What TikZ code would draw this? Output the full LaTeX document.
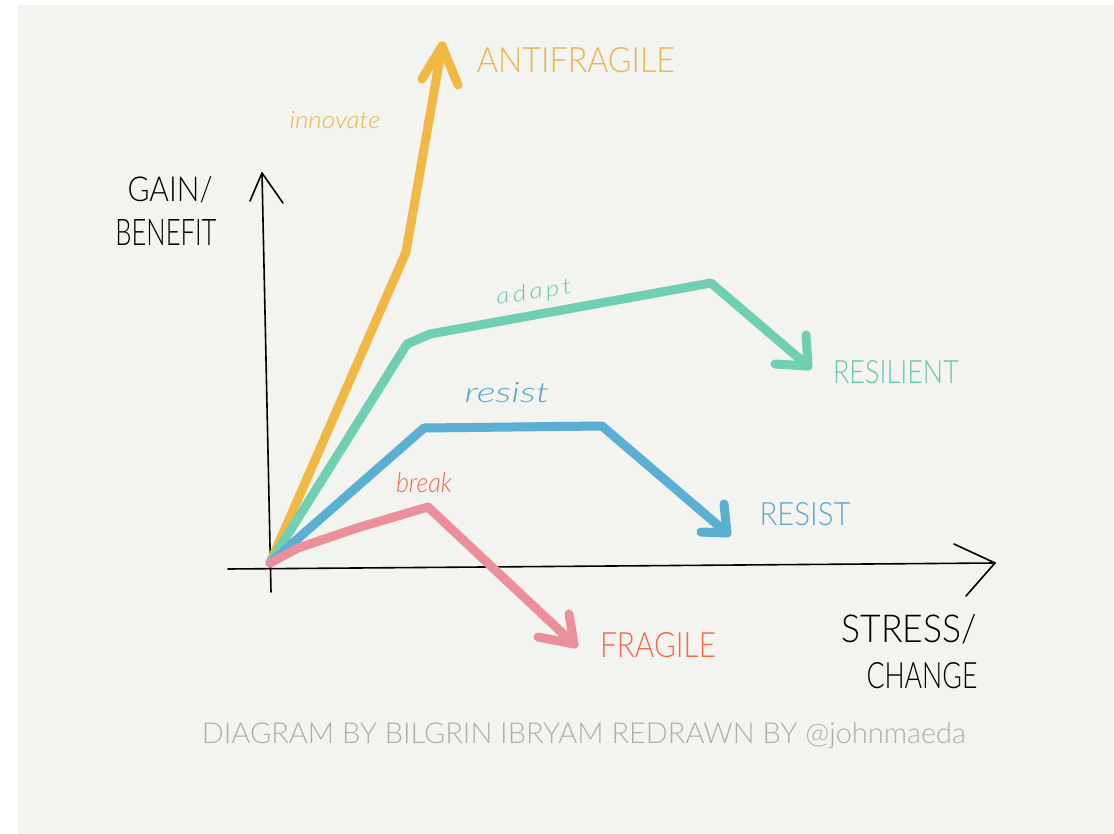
\documentclass[tikz,border=0pt]{standalone}
\usepackage{fontspec}
\usepackage{graphicx}
\setmainfont{Lato Light}
\definecolor{bgc}{HTML}{F3F3EF}
\definecolor{cyel}{HTML}{F2B844}
\definecolor{cteal}{HTML}{70CFB2}
\definecolor{cblue}{HTML}{5BAFD3}
\definecolor{cpink}{HTML}{EB8F9A}
\definecolor{tyel}{HTML}{E9B54E}
\definecolor{tteal}{HTML}{67C7AB}
\definecolor{tblue}{HTML}{5AA8CC}
\definecolor{tred}{HTML}{EC6A50}
\definecolor{tfoot}{HTML}{B3ABAB}
\newcommand{\fitbox}[3]{\resizebox{#1pt}{#2pt}{#3}}
\begin{document}
\begin{tikzpicture}[x=1pt,y=-1pt,
  axisline/.style={draw=black, line width=1.6pt, line cap=round, line join=round},
  curve/.style={line width=9pt, line cap=round, line join=round},
  lbl/.style={inner sep=0pt, anchor=base}]
\useasboundingbox (0,0) rectangle (1114,834);
\fill[white] (0,0) rectangle (1114,834);
\fill[bgc] (18,5) rectangle (1114,834);
% coordinates
\coordinate (O) at (270,563);
\coordinate (ybot) at (271,592);
\coordinate (ytop) at (262,173);
\coordinate (yarmL) at (250,201);
\coordinate (yarmR) at (283,203);
\coordinate (xleft) at (228,569);
\coordinate (xtip) at (995,563);
\coordinate (xarmU) at (954,544);
\coordinate (xarmD) at (966,596);
% axes
\draw[axisline] (ybot) -- (ytop);
\draw[axisline] (yarmL) -- (ytop) -- (yarmR);
\draw[axisline] (xleft) -- (xtip);
\draw[axisline] (xarmU) -- (xtip) -- (xarmD);
% antifragile
\coordinate (y1) at (406,252);
\coordinate (ytipc) at (442,46);
\coordinate (yaL) at (422,79);
\coordinate (yaR) at (458,85);
\draw[curve, cyel] (O) -- (y1) -- (ytipc);
\draw[curve, cyel] (yaL) -- (ytipc) -- (yaR);
% resilient
\coordinate (t1) at (407,344);
\coordinate (t2) at (430,334);
\coordinate (t3) at (711,283);
\coordinate (ttip) at (808,366);
\coordinate (taU) at (806,335);
\coordinate (taL) at (775,364);
\draw[curve, cteal] (O) -- (t1) -- (t2) -- (t3) -- (ttip);
\draw[curve, cteal] (taU) -- (ttip) -- (taL);
% resist
\coordinate (b1) at (424,428);
\coordinate (b2) at (602,426);
\coordinate (btip) at (727,533);
\coordinate (baU) at (724,504);
\coordinate (baL) at (701,532);
\draw[curve, cblue] (O) -- (b1) -- (b2) -- (btip);
\draw[curve, cblue] (baU) -- (btip) -- (baL);
% fragile
\coordinate (p1) at (298,548);
\coordinate (p2) at (360,527);
\coordinate (p3) at (428,507);
\coordinate (ptip) at (574,644);
\coordinate (paU) at (569,614);
\coordinate (paL) at (538,637);
\draw[curve, cpink] (O) -- (p1) -- (p2) -- (p3) -- (ptip);
\draw[curve, cpink] (paU) -- (ptip) -- (paL);
% labels
\node[lbl, text=tyel] (lanti) at (576,73) {\fitbox{198}{25}{ANTIFRAGILE}};
\node[lbl, text=tyel] (linno) at (335,129) {\fitbox{91}{17}{\itshape innovate}};
\node[lbl, text=black] (lgain) at (170,202) {\fitbox{85}{25}{GAIN/}};
\node[lbl, text=black] (lbene) at (166,246) {\fitbox{101}{26}{BENEFIT}};
\node[lbl, text=tteal, rotate=9] (ladapt) at (535,299) {\fitbox{76}{16}{\itshape a\kern1.3pt d\kern1.3pt a\kern1.3pt p\kern1.3pt t}};
\node[lbl, text=tteal] (lresil) at (896,384) {\fitbox{126}{23}{RESILIENT}};
\node[lbl, text=tblue] (lres) at (507,402) {\fitbox{85}{20}{\itshape resist}};
\node[lbl, text=tblue] (lRES) at (805,525) {\fitbox{91}{23}{RESIST}};
\node[lbl, text=tred] (lbreak) at (424,492) {\fitbox{56}{20}{\itshape break}};
\node[lbl, text=tred] (lfrag) at (658,657) {\fitbox{116}{25}{FRAGILE}};
\node[lbl, text=black] (lstress) at (909,642) {\fitbox{135}{28}{STRESS/}};
\node[lbl, text=black] (lchange) at (922,688) {\fitbox{111}{26}{CHANGE}};
\node[lbl, text=tfoot] (lfoot) at (584,743) {\fitbox{764}{21}{DIAGRAM BY BILGRIN IBRYAM REDRAWN BY @johnmaeda}};
\end{tikzpicture}
\end{document}
